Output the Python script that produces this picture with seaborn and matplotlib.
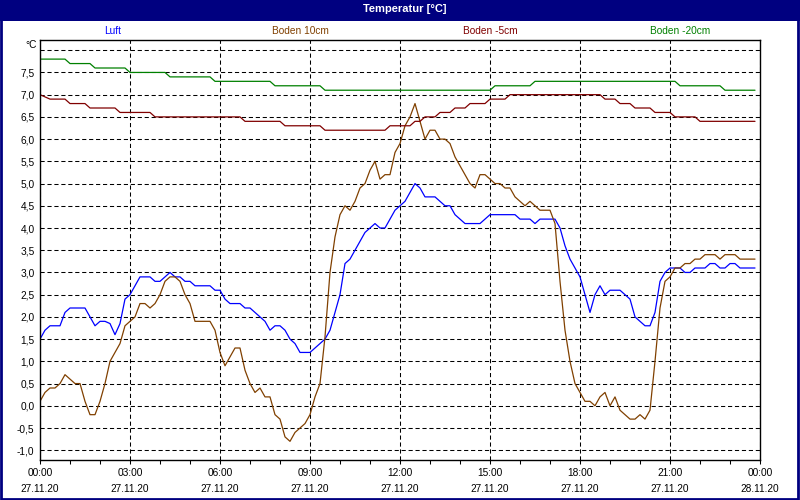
import numpy as np
import pandas as pd
import matplotlib
matplotlib.use("Agg")
import matplotlib.pyplot as plt
from matplotlib.patches import Rectangle
import seaborn as sns

# (minutes after 00:00 on 27.11.20, temperature in degC)
luft = [(0, 1.5), (10, 1.7), (20, 1.8), (40, 1.8), (50, 2.1), (60, 2.2), (90, 2.2),
        (110, 1.8), (120, 1.9), (130, 1.9), (140, 1.85), (150, 1.6), (160, 1.85),
        (170, 2.4), (180, 2.5), (190, 2.7), (200, 2.9), (220, 2.9), (230, 2.8),
        (240, 2.8), (260, 3.0), (270, 2.9), (280, 2.9), (290, 2.8), (300, 2.8),
        (310, 2.7), (340, 2.7), (350, 2.6), (360, 2.6), (370, 2.4), (380, 2.3),
        (400, 2.3), (410, 2.2), (420, 2.2), (430, 2.1), (440, 2.0), (450, 1.9),
        (460, 1.7), (470, 1.8), (480, 1.8), (490, 1.7), (500, 1.5), (510, 1.4),
        (520, 1.2), (540, 1.2), (550, 1.3), (560, 1.4), (570, 1.5), (580, 1.7),
        (590, 2.1), (600, 2.5), (610, 3.2), (620, 3.3), (630, 3.5), (640, 3.7),
        (650, 3.9), (660, 4.0), (670, 4.1), (680, 4.0), (690, 4.0), (700, 4.2),
        (710, 4.4), (720, 4.5), (730, 4.6), (740, 4.8), (750, 5.0), (760, 4.9),
        (770, 4.7), (790, 4.7), (800, 4.6), (810, 4.5), (820, 4.5), (830, 4.3),
        (840, 4.2), (850, 4.1), (880, 4.1), (890, 4.2), (900, 4.3), (950, 4.3),
        (960, 4.2), (980, 4.2), (990, 4.1), (1000, 4.2), (1030, 4.2), (1040, 4.0),
        (1050, 3.6), (1060, 3.3), (1070, 3.1), (1080, 2.9), (1090, 2.5), (1100, 2.1),
        (1110, 2.5), (1120, 2.7), (1130, 2.5), (1140, 2.6), (1160, 2.6), (1170, 2.5),
        (1180, 2.4), (1190, 2.0), (1200, 1.9), (1210, 1.8), (1220, 1.8), (1230, 2.1),
        (1240, 2.8), (1250, 3.0), (1260, 3.1), (1280, 3.1), (1290, 3.0), (1300, 3.0),
        (1310, 3.1), (1330, 3.1), (1340, 3.2), (1350, 3.2), (1360, 3.1), (1370, 3.1),
        (1380, 3.2), (1390, 3.2), (1400, 3.1), (1430, 3.1)]

boden_10 = [(0, 0.1), (10, 0.3), (20, 0.4), (30, 0.4), (40, 0.5), (50, 0.7), (60, 0.6),
            (70, 0.5), (80, 0.5), (90, 0.1), (100, -0.2), (110, -0.2), (120, 0.1),
            (130, 0.5), (140, 1.0), (150, 1.2), (160, 1.4), (170, 1.8), (180, 1.9),
            (190, 2.0), (200, 2.3), (210, 2.3), (220, 2.2), (230, 2.3), (240, 2.5),
            (250, 2.8), (260, 2.9), (270, 2.9), (280, 2.8), (290, 2.5), (300, 2.3),
            (310, 1.9), (340, 1.9), (350, 1.7), (360, 1.2), (370, 0.9), (380, 1.1),
            (390, 1.3), (400, 1.3), (410, 0.8), (420, 0.5), (430, 0.3), (440, 0.4),
            (450, 0.2), (460, 0.2), (470, -0.2), (480, -0.3), (490, -0.7), (500, -0.8),
            (510, -0.6), (520, -0.5), (530, -0.4), (540, -0.2), (550, 0.2), (560, 0.5),
            (570, 1.55), (580, 3.0), (590, 3.8), (600, 4.3), (610, 4.5), (620, 4.4),
            (630, 4.6), (640, 4.9), (650, 5.0), (660, 5.3), (670, 5.5), (680, 5.1),
            (690, 5.2), (700, 5.2), (710, 5.7), (720, 5.9), (730, 6.3), (740, 6.5),
            (750, 6.8), (760, 6.4), (770, 6.0), (780, 6.2), (790, 6.2), (800, 6.0),
            (810, 6.0), (820, 5.9), (830, 5.6), (840, 5.4), (850, 5.2), (860, 5.0),
            (870, 4.9), (880, 5.2), (890, 5.2), (900, 5.1), (910, 5.0), (920, 5.0),
            (930, 4.9), (940, 4.9), (950, 4.7), (960, 4.6), (970, 4.5), (980, 4.6),
            (990, 4.5), (1000, 4.4), (1020, 4.4), (1030, 4.1), (1040, 2.8), (1050, 1.7),
            (1060, 1.0), (1070, 0.5), (1080, 0.3), (1090, 0.1), (1100, 0.1), (1110, 0.0),
            (1120, 0.2), (1130, 0.3), (1140, 0.0), (1150, 0.2), (1160, -0.1), (1170, -0.2),
            (1180, -0.3), (1190, -0.3), (1200, -0.2), (1210, -0.3), (1220, -0.1),
            (1230, 1.0), (1240, 2.2), (1250, 2.8), (1260, 2.9), (1270, 3.1), (1280, 3.1),
            (1290, 3.2), (1300, 3.2), (1310, 3.3), (1320, 3.3), (1330, 3.4), (1350, 3.4),
            (1360, 3.3), (1370, 3.4), (1390, 3.4), (1400, 3.3), (1430, 3.3)]

boden_5 = [(0, 7.0), (20, 6.9), (50, 6.9), (60, 6.8), (90, 6.8), (100, 6.7), (150, 6.7),
           (160, 6.6), (220, 6.6), (230, 6.5), (400, 6.5), (410, 6.4), (480, 6.4),
           (490, 6.3), (560, 6.3), (570, 6.2), (690, 6.2), (700, 6.3), (740, 6.3),
           (750, 6.4), (760, 6.4), (770, 6.5), (790, 6.5), (800, 6.6), (820, 6.6),
           (830, 6.7), (850, 6.7), (860, 6.8), (890, 6.8), (900, 6.9), (930, 6.9),
           (940, 7.0), (1120, 7.0), (1130, 6.9), (1150, 6.9), (1160, 6.8), (1180, 6.8),
           (1190, 6.7), (1220, 6.7), (1230, 6.6), (1260, 6.6), (1270, 6.5), (1310, 6.5),
           (1320, 6.4), (1430, 6.4)]

boden_20 = [(0, 7.8), (50, 7.8), (60, 7.7), (100, 7.7), (110, 7.6), (170, 7.6), (180, 7.5),
            (250, 7.5), (260, 7.4), (340, 7.4), (350, 7.3), (460, 7.3), (470, 7.2),
            (560, 7.2), (570, 7.1), (900, 7.1), (910, 7.2), (980, 7.2), (990, 7.3),
            (1270, 7.3), (1280, 7.2), (1360, 7.2), (1370, 7.1), (1430, 7.1)]

series_names = ['Luft', 'Boden 10cm', 'Boden -5cm', 'Boden -20cm']
series_colors = ['#0000ff', '#804000', '#800000', '#008000']
legend_x = [113, 300, 490, 680]

tick_hours = [0, 3, 6, 9, 12, 15, 18, 21, 24]
tick_labels = ['00:00\n27.11.20', '03:00\n27.11.20', '06:00\n27.11.20', '09:00\n27.11.20',
               '12:00\n27.11.20', '15:00\n27.11.20', '18:00\n27.11.20', '21:00\n27.11.20',
               '00:00\n28.11.20']
y_ticks = np.arange(-1.0, 8.01, 0.5)


def main():
    frames = []
    for name, pts in zip(series_names, [luft, boden_10, boden_5, boden_20]):
        mins, vals = zip(*pts)
        frames.append(pd.DataFrame({'hour': np.array(mins) / 60.0, 'temp': vals, 'series': name}))
    df = pd.concat(frames, ignore_index=True)

    sns.set_theme(style='white')
    plt.rcParams['font.family'] = ['Liberation Sans', 'DejaVu Sans']
    plt.rcParams['lines.scale_dashes'] = False

    fig = plt.figure(figsize=(8, 5), dpi=100)
    fig.patch.set_facecolor('white')
    ax = fig.add_axes([40 / 800, 40 / 500, 720 / 800, 420 / 500])

    sns.lineplot(data=df, x='hour', y='temp', hue='series', hue_order=series_names,
                 palette=dict(zip(series_names, series_colors)), estimator=None,
                 legend=False, linewidth=0.9, ax=ax)

    ax.set_xlim(0, 24)
    ax.set_ylim(-1.22, 8.23)
    ax.set_xticks(tick_hours, tick_labels)
    ax.set_xticks(range(25), minor=True)
    ylabels = [f'{v:.1f}'.replace('.', ',') for v in y_ticks]
    ylabels[-1] = ''
    ax.set_yticks(y_ticks, ylabels)
    ax.set_xlabel('')
    ax.set_ylabel('')

    ax.grid(True, which='major', color='black', linestyle=(0, (3, 2)), linewidth=0.75)
    ax.tick_params(axis='x', which='both', direction='out', length=3, width=0.75,
                   color='black', pad=3, labelsize=7.3, labelcolor='black', bottom=True)
    ax.tick_params(axis='y', length=0, pad=4, labelsize=7.3, labelcolor='black')
    plt.setp(ax.get_xticklabels(), linespacing=1.65)
    for sp in ax.spines.values():
        sp.set_color('black')
        sp.set_linewidth(1.0)

    # title bar, frame and header texts
    fig.add_artist(Rectangle((0, 1 - 21 / 500), 1, 21 / 500, transform=fig.transFigure,
                             facecolor='#000080', edgecolor='none', zorder=0))
    fig.add_artist(Rectangle((1 / 800, 1.5 / 500), 797 / 800, 496 / 500, transform=fig.transFigure,
                             fill=False, edgecolor='#000080', linewidth=2, zorder=0))
    fig.text(405 / 800, 1 - 9 / 500, 'Temperatur [°C]', color='white', fontweight='bold',
             ha='center', va='center', fontsize=8)
    for name, col, x in zip(series_names, series_colors, legend_x):
        fig.text(x / 800, 1 - 31 / 500, name, color=col, ha='center', va='center', fontsize=7.3)
    fig.text(31 / 800, 1 - 44.5 / 500, '°C', color='black', ha='center', va='center', fontsize=7.3)

    fig.savefig('out.png', dpi=100)


if __name__ == '__main__':
    main()
